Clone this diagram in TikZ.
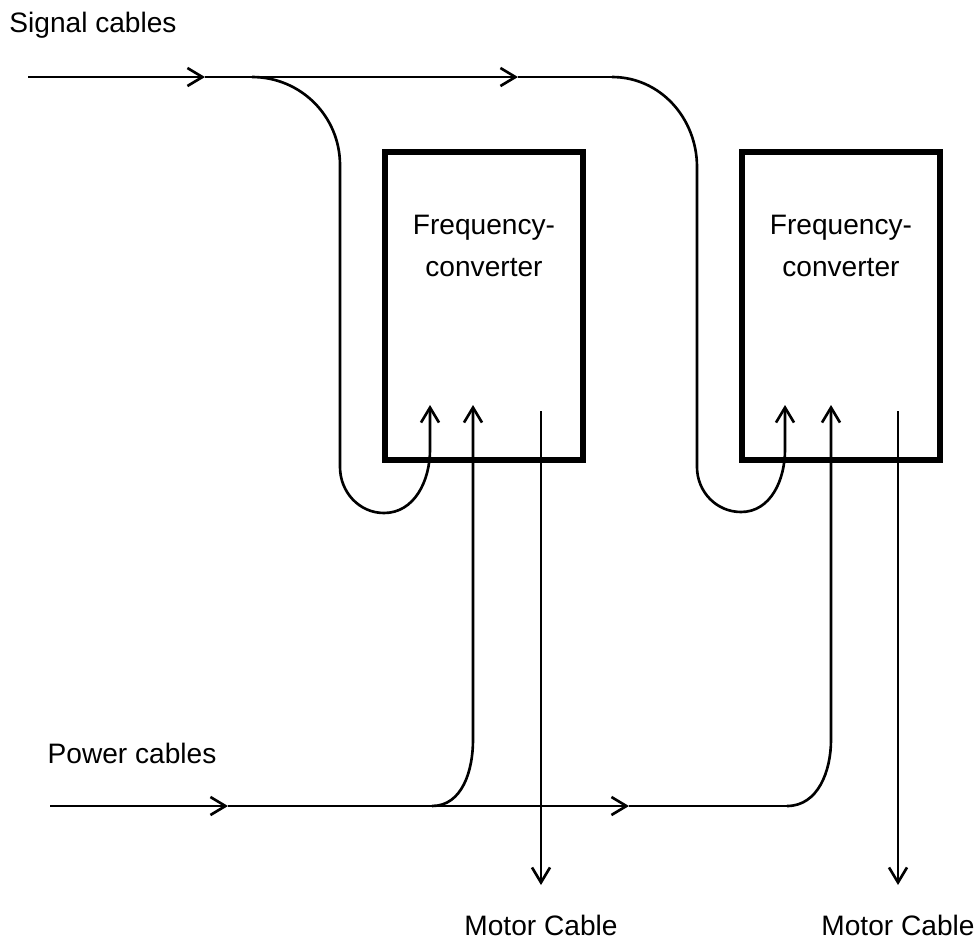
\documentclass[tikz,border=0pt]{standalone}
\usepackage{fontspec}
\setmainfont{Liberation Sans}
\usepackage{tikz}
\usetikzlibrary{arrows.meta}
\tikzstyle{converter} = [rectangle, draw, line width=3.4pt, minimum width=3.96cm, minimum height=6.18cm]
\tikzstyle{cable} = [draw, line width=1.5pt, -{Straight Barb[length=0.3cm,width=0.36cm]}]
\tikzstyle{wire} = [draw, line width=1.5pt]
\tikzstyle{fctext} = [align=center, font=\fontsize{16}{23.8}\selectfont]
\tikzstyle{cabletext} = [font=\fontsize{16}{19}\selectfont]

\begin{document}
\begin{tikzpicture}[x=0.02cm,y=0.02cm,node distance=7.14cm]
	\useasboundingbox (0,0) rectangle (978,-940);
	\node[converter] (fc1) at (484,-306) {};
	\node[converter,right of=fc1] (fc2) {};
	\node[fctext] (fc1text) at ([yshift=-1.95cm]fc1.north) {Frequency-\\converter};
	\node[fctext] (fc2text) at ([yshift=-1.95cm]fc2.north) {Frequency-\\converter};
	
	% signal cables
	\coordinate (sig0) at (28,-77);
	\coordinate (sig1) at (205,-77);
	\coordinate (sig2) at (518,-77);
	\coordinate (sigb1) at (252,-77);
	\coordinate (sigb2) at (612,-77);
	\coordinate (sigin1) at (430,-405);
	\coordinate (sigin2) at (785,-405);
	\node[cabletext] (signal) at (93,-25) {Signal cables};
	
	\path[cable] (sig0) -- (sig1);
	\path[cable] (sig1) -- (sig2);
	\path[wire] (sig2) -- (sigb2);
	\path[cable] (sigb1) to[out=0,in=90] (340,-165) -- (340,-467) to[out=-90,in=180] (384,-513) to[out=0,in=-90] (430,-450) -- (sigin1);
	\path[cable] (sigb2) to[out=0,in=90] (697,-167) -- (697,-467) to[out=-90,in=180] (741,-512) to[out=0,in=-90] (785,-450) -- (sigin2);
	
	% power cables
	\coordinate (pow0) at (50,-806);
	\coordinate (pow1) at (228,-806);
	\coordinate (pow2) at (629,-806);
	\coordinate (powb1) at (432,-806);
	\coordinate (powb2) at (787,-806);
	\coordinate (powin1) at (473,-405);
	\coordinate (powin2) at (831,-405);
	\node[cabletext] (power) at (132,-753) {Power cables};
	
	\path[cable] (pow0) -- (pow1);
	\path[cable] (pow1) -- (pow2);
	\path[wire] (pow2) -- (powb2);
	\path[cable] (powb1) to[out=0,in=-90] (473,-740) -- (powin1);
	\path[cable] (powb2) to[out=0,in=-90] (831,-740) -- (powin2);
	
	% motor cables
	\coordinate (mot1) at (541,-411);
	\coordinate (mot2) at (898,-411);
	\coordinate (motend1) at (541,-885);
	\coordinate (motend2) at (898,-885);
	\node[cabletext,below of=motend1,node distance=0.8cm] (motor1) {Motor Cable};
	\node[cabletext,below of=motend2,node distance=0.8cm] (motor2) {Motor Cable};
	
	\path[cable] (mot1) -- (motend1);
	\path[cable] (mot2) -- (motend2);
\end{tikzpicture}
\end{document}
